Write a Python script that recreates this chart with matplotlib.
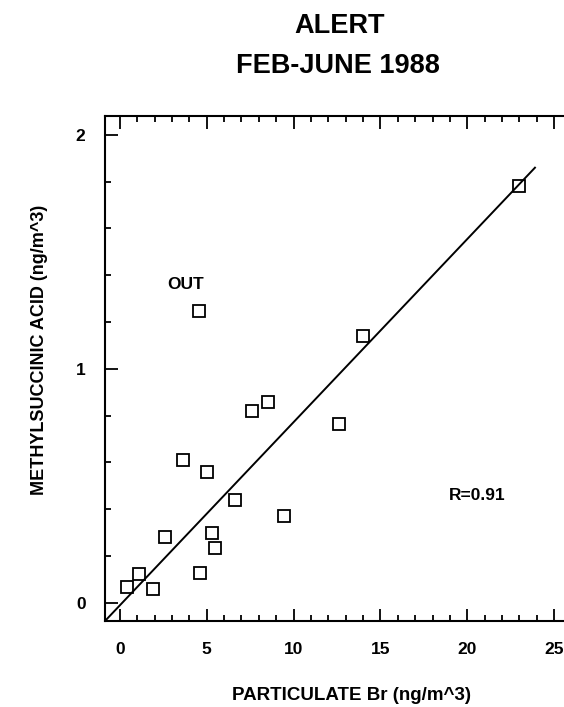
import numpy as np
import matplotlib
matplotlib.use('Agg')
import matplotlib.pyplot as plt
from matplotlib.ticker import MultipleLocator

# particulate Br (ng/m^3) vs methylsuccinic acid (ng/m^3), Alert Feb-June 1988
br = [0.4, 1.1, 1.9, 2.6, 3.65, 4.6, 5.0, 5.3, 5.5, 6.6, 7.6, 8.5, 9.45, 12.6, 14.0, 23.0]
msa = [0.07, 0.125, 0.06, 0.28, 0.61, 0.13, 0.56, 0.30, 0.235, 0.44, 0.82, 0.86, 0.37, 0.765, 1.14, 1.78]
# outlier, left out of the fit
out_br = [4.55]
out_msa = [1.245]

# regression line as drawn in the original (slope, intercept, x range)
fit_slope = 0.0782
fit_icpt = -0.0097
fit_x = [-0.86, 23.9]

x_ticks = [0, 5, 10, 15, 20, 25]
y_ticks = [0, 1, 2]

plt.rcParams['font.family'] = ['Liberation Sans', 'DejaVu Sans']

fig = plt.figure(figsize=(5.64, 7.07), dpi=100)
ax = fig.add_axes([105 / 564, 86 / 707, 460 / 564, 505 / 707])

ax.plot(br, msa, 's', ms=8.5, mfc='none', mec='black', mew=1.3)
ax.plot(out_br, out_msa, 's', ms=8.5, mfc='none', mec='black', mew=1.3)

xl = np.array(fit_x)
ax.plot(xl, fit_slope * xl + fit_icpt, color='black', lw=1.4)

ax.text(3.8, 1.36, 'OUT', ha='center', va='center', fontsize=12.5, fontweight='bold')
ax.text(20.6, 0.46, 'R=0.91', ha='center', va='center', fontsize=12.5, fontweight='bold')

ax.set_xlim(-0.86, 25.63)
ax.set_ylim(-0.077, 2.08)
ax.set_xticks(x_ticks)
ax.set_yticks(y_ticks)
ax.xaxis.set_minor_locator(MultipleLocator(1))
ax.yaxis.set_minor_locator(MultipleLocator(0.2))
ax.tick_params(which='both', direction='in', top=True, right=False, width=1.3)
ax.tick_params(which='major', length=9, labelsize=12.5, pad=15)
ax.tick_params(which='minor', length=4.5)
ax.tick_params(axis='y', pad=14)
for lab in ax.get_xticklabels() + ax.get_yticklabels():
    lab.set_fontweight('bold')
for s in ['left', 'bottom', 'top']:
    ax.spines[s].set_linewidth(1.5)
ax.spines['right'].set_visible(False)

fig.text(352 / 564, 1 - 695 / 707, 'PARTICULATE Br (ng/m^3)', ha='center', va='center',
         fontsize=13.5, fontweight='bold')
fig.text(40 / 564, 1 - 350 / 707, 'METHYLSUCCINIC ACID (ng/m^3)', ha='center', va='center',
         rotation=90, fontsize=13, fontweight='bold')
fig.text(340 / 564, 1 - 26 / 707, 'ALERT', ha='center', va='center', fontsize=19.5, fontweight='bold')
fig.text(338 / 564, 1 - 66 / 707, 'FEB-JUNE 1988', ha='center', va='center', fontsize=19.5, fontweight='bold')

fig.savefig('out.png', dpi=100)
